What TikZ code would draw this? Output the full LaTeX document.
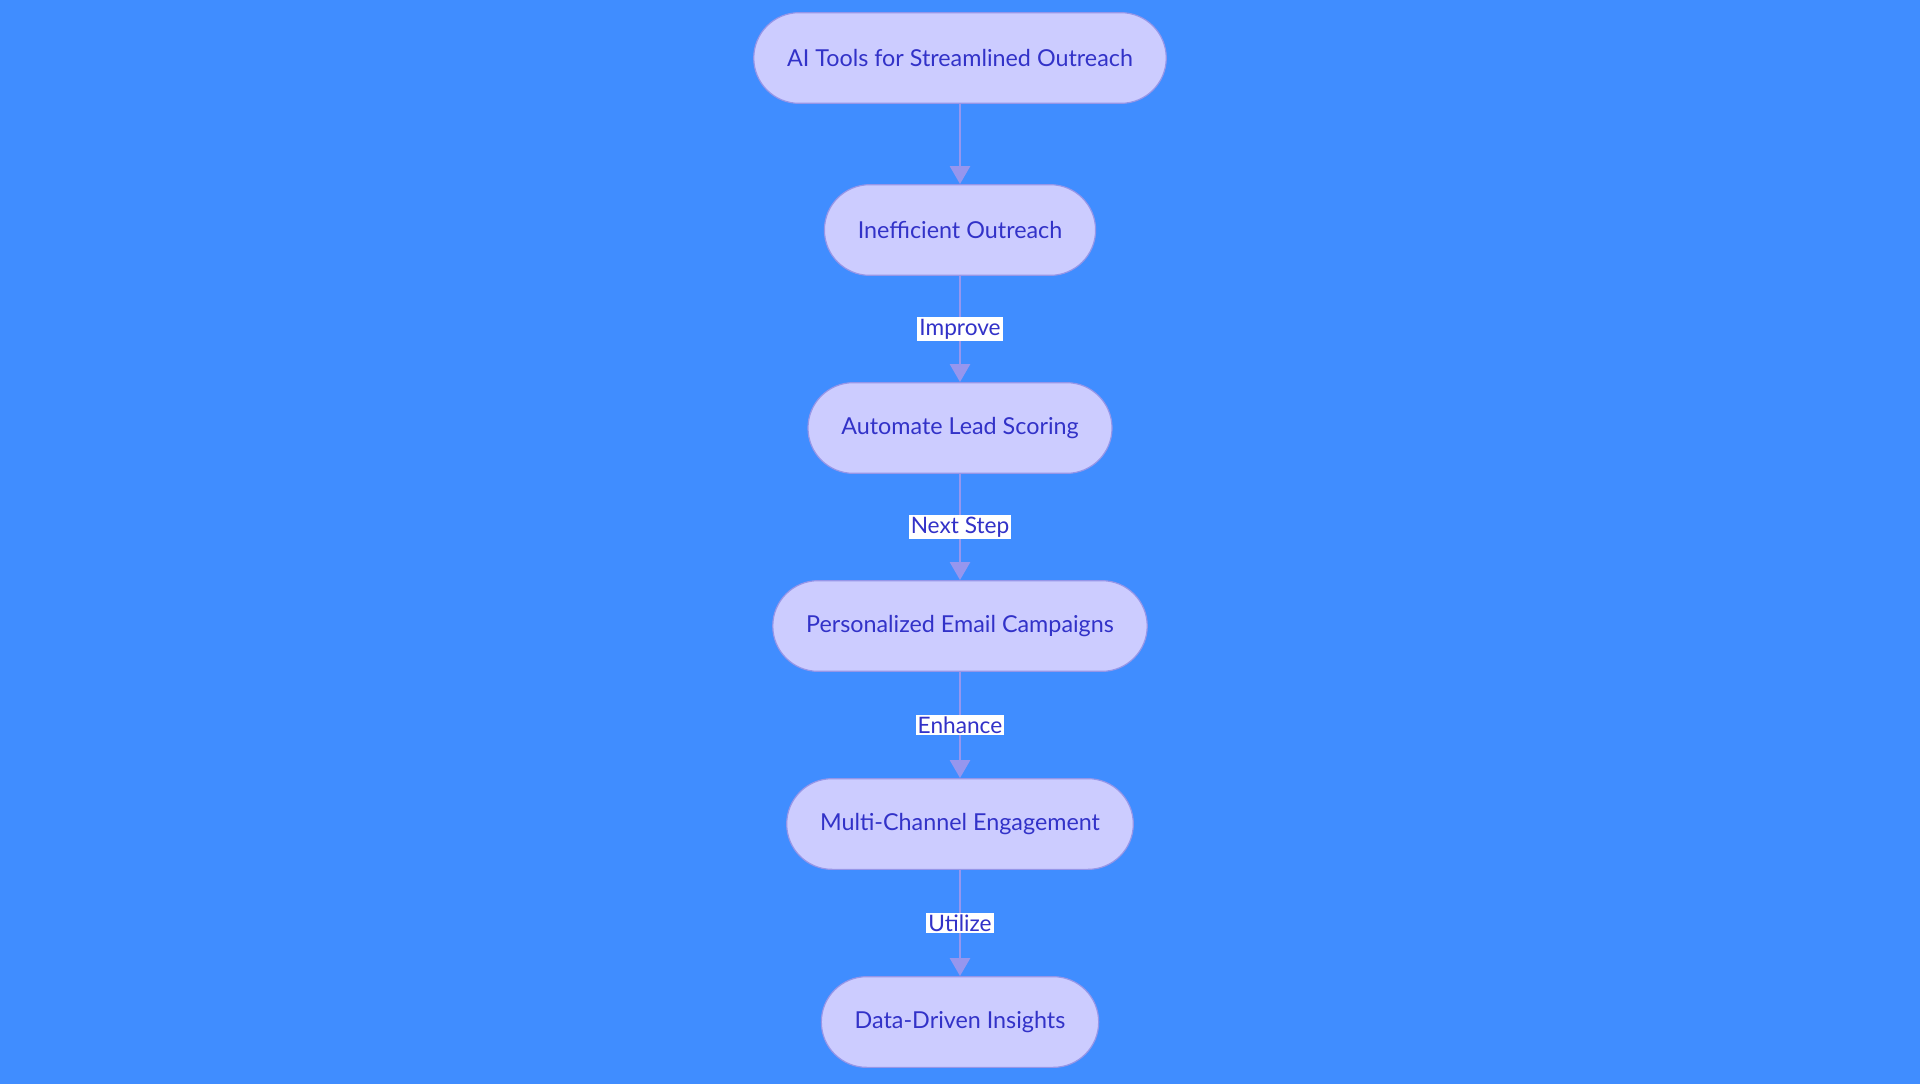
\documentclass[tikz,border=0pt]{standalone}
\usepackage{fontspec}
\setmainfont{Lato}
\usetikzlibrary{arrows.meta, positioning}

\definecolor{bgblue}{RGB}{64,141,255}
\definecolor{nodefill}{RGB}{204,204,255}
\definecolor{nodeline}{RGB}{150,150,232}
\definecolor{nodetext}{RGB}{50,50,200}
\definecolor{linkcol}{RGB}{150,150,238}

\begin{document}
\begin{tikzpicture}[node distance=148.5pt]

        % Define styles for the nodes and labels
        \tikzstyle{stage} = [rectangle, rounded corners=34pt, minimum height=68pt, inner xsep=25pt, text centered, draw=nodeline, line width=0.9pt, fill=nodefill, text=nodetext, font=\fontsize{17.5}{20}\selectfont]
        \tikzstyle{linklabel} = [midway, fill=white, inner sep=1.5pt, text=nodetext, font=\fontsize{17}{20}\selectfont]

        % Define arrow style
        \tikzstyle{arrow} = [draw=linkcol, line width=2pt, -{Triangle[width=15pt, length=13.5pt]}]

        % Background and page size
        \useasboundingbox (0,0) rectangle (1440pt,-812.25pt);
        \fill[bgblue] (-2pt,2pt) rectangle (1442pt,-815pt);

        % Nodes
        \node (aiTools) [stage] at (720pt,-43.5pt) {AI Tools for Streamlined Outreach};
        \node (inefficient) [stage, below of=aiTools, yshift=19.5pt] {Inefficient Outreach};
        \node (leadScoring) [stage, below of=inefficient] {Automate Lead Scoring};
        \node (emailCamp) [stage, below of=leadScoring] {Personalized Email Campaigns};
        \node (multiChannel) [stage, below of=emailCamp] {Multi-Channel Engagement};
        \node (insights) [stage, below of=multiChannel] {Data-Driven Insights};

        % Arrows
        \draw [arrow] (aiTools) -- (inefficient);
        \draw [arrow] (inefficient) -- node[linklabel] {Improve} (leadScoring);
        \draw [arrow] (leadScoring) -- node[linklabel] {Next Step} (emailCamp);
        \draw [arrow] (emailCamp) -- node[linklabel] {Enhance} (multiChannel);
        \draw [arrow] (multiChannel) -- node[linklabel] {Utilize} (insights);

    \end{tikzpicture}
\end{document}
